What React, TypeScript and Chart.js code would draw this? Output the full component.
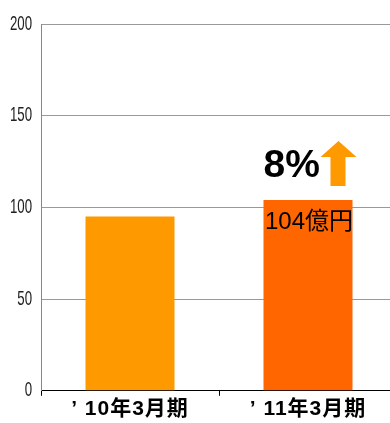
import React, { useEffect, useRef } from "react";
import { Chart, registerables } from "chart.js";

Chart.register(...registerables);

const categories = ["’ 10年3月期", "’ 11年3月期"];
const values = [95, 104];
const barColors = ["#FF9900", "#FF6600"];
const yTicks = [0, 50, 100, 150, 200];
const growthLabel = "8%";
const valueLabel = "104億円";
const arrowColor = "#FF9900";

const overlay = {
  id: "overlay",
  afterDraw(chart: any) {
    const ctx = chart.ctx;
    const y = chart.scales.y;
    // y tick labels, condensed
    ctx.save();
    ctx.fillStyle = "#222";
    ctx.font = "17px 'Liberation Sans Narrow', 'Liberation Sans', sans-serif";
    ctx.textAlign = "right";
    ctx.textBaseline = "middle";
    for (const t of yTicks) {
      const py = y.getPixelForValue(t);
      ctx.save();
      ctx.translate(32, py);
      ctx.scale(0.78, 1.2);
      ctx.fillText(String(t), 0, 0);
      ctx.restore();
    }
    ctx.restore();

    // annotations on 2nd bar
    const meta = chart.getDatasetMeta(0);
    const bar = meta.data[1];
    if (!bar) return;
    const { x, width } = bar.getProps(["x", "width"], true);
    const left = x - width / 2;
    const topY = bar.y;
    ctx.save();
    ctx.fillStyle = "#000";
    ctx.font = "bold 39px 'Liberation Sans', Arial, sans-serif";
    ctx.textAlign = "left";
    ctx.textBaseline = "middle";
    ctx.fillText(growthLabel, left, topY - 34);
    // arrow
    const ax = left + 57;
    const aTop = topY - 59;
    ctx.fillStyle = arrowColor;
    ctx.beginPath();
    ctx.moveTo(ax + 18, aTop);
    ctx.lineTo(ax + 36, aTop + 16);
    ctx.lineTo(ax + 25, aTop + 16);
    ctx.lineTo(ax + 25, aTop + 45);
    ctx.lineTo(ax + 10, aTop + 45);
    ctx.lineTo(ax + 10, aTop + 16);
    ctx.lineTo(ax, aTop + 16);
    ctx.closePath();
    ctx.fill();
    // value label
    ctx.fillStyle = "#000";
    ctx.font = "24px 'Liberation Sans', 'Noto Sans CJK JP', sans-serif";
    ctx.textAlign = "center";
    ctx.fillText(valueLabel, x + 1, topY + 22);
    ctx.restore();
  },
};

const spacing = {
  id: "spacing",
  beforeDraw(chart: any) {
    chart.ctx.letterSpacing = "1px";
  },
  afterDatasetsDraw(chart: any) {
    chart.ctx.letterSpacing = "0px";
  },
};

export default function App() {
  const ref = useRef<HTMLCanvasElement>(null);
  useEffect(() => {
    const chart = new Chart(ref.current!, {
      type: "bar",
      data: {
        labels: categories,
        datasets: [
          {
            data: values,
            backgroundColor: barColors,
            barPercentage: 1,
            categoryPercentage: 0.5,
          },
        ],
      },
      options: {
        responsive: false,
        animation: false,
        layout: { padding: { left: 41, top: 24, right: 3, bottom: 0 } },
        plugins: { legend: { display: false }, tooltip: { enabled: false } },
        scales: {
          x: {
            border: { color: "#000", width: 1 },
            grid: { drawOnChartArea: false, drawTicks: true, tickLength: 5, color: "#000" },
            ticks: {
              color: "#000",
              font: { family: "'Liberation Sans', 'Noto Sans CJK JP', sans-serif", size: 21, weight: "bold" },
              padding: 1,
            },
          },
          y: {
            min: 0,
            max: 200,
            border: { color: "#888", width: 1 },
            grid: { color: "#999", drawTicks: false },
            ticks: { display: false, stepSize: 50 },
          },
        },
      },
      plugins: [spacing, overlay],
    });
    return () => chart.destroy();
  }, []);
  return (
    <div style={{ position: "fixed", left: 0, top: 0, width: 390, height: 423, overflow: "hidden", background: "#fff" }}>
      <canvas ref={ref} width={400} height={423} style={{ display: "block" }} />
    </div>
  );
}
